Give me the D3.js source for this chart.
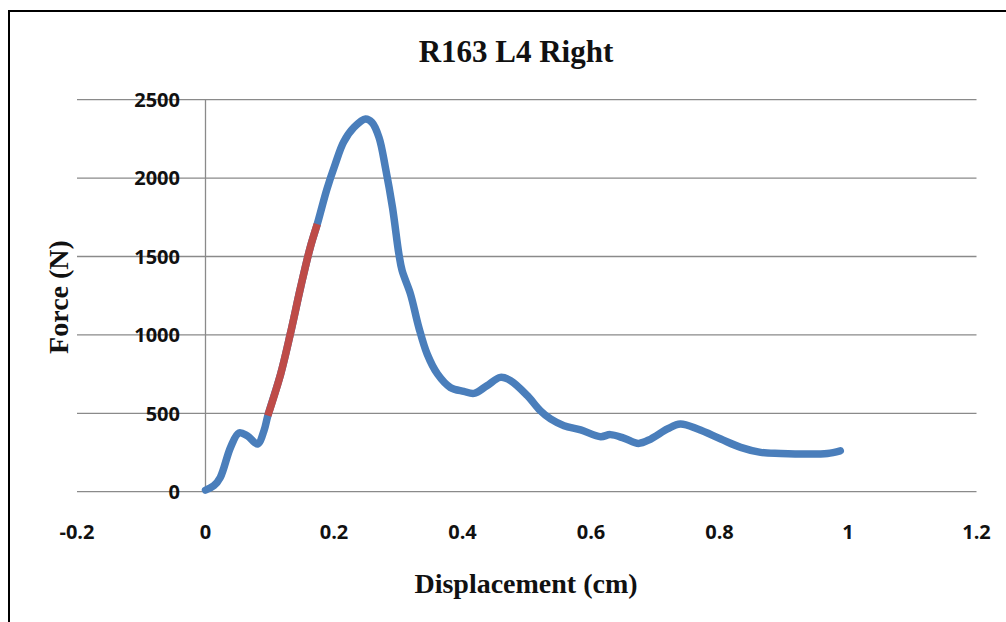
<!DOCTYPE html>
<html>
<head>
<meta charset="utf-8">
<script src="https://cdn.jsdelivr.net/npm/d3@7"></script>
<style>
  html, body { margin: 0; padding: 0; background: #fff; }
  svg { display: block; }
</style>
</head>
<body>
<svg id="chart" width="1006" height="622"></svg>
<script>
// ---- data ----
const title = "R163 L4 Right";
const xTitle = "Displacement (cm)";
const yTitle = "Force (N)";
const xTicks = [-0.2, 0, 0.2, 0.4, 0.6, 0.8, 1, 1.2];
const yTicks = [0, 500, 1000, 1500, 2000, 2500];

const dispBlue = [0, 0.013, 0.023, 0.039, 0.052, 0.065, 0.081, 0.091, 0.097, 0.117, 0.132, 0.148, 0.163, 0.174,
  0.189, 0.202, 0.215, 0.231, 0.249, 0.259, 0.270, 0.280, 0.291, 0.301, 0.306, 0.319, 0.332, 0.345, 0.361, 0.381,
  0.402, 0.418, 0.438, 0.459, 0.475, 0.501, 0.521, 0.537, 0.558, 0.584, 0.615, 0.630, 0.651, 0.674, 0.693, 0.719,
  0.739, 0.767, 0.802, 0.833, 0.864, 0.895, 0.937, 0.968, 0.988];
const forceBlue = [10, 38, 91, 283, 375, 357, 304, 389, 485, 751, 1006, 1303, 1558, 1707,
  1930, 2090, 2230, 2323, 2377, 2355, 2260, 2068, 1813, 1516, 1410, 1261, 1048, 878, 751, 665,
  640, 627, 676, 729, 708, 612, 517, 464, 421, 394, 351, 364, 342, 308, 336, 400,
  432, 398, 336, 283, 251, 244, 240, 244, 261];

const dispRed = [0.097, 0.117, 0.132, 0.148, 0.163, 0.174];
const forceRed = [485, 751, 1006, 1303, 1558, 1707];

// ---- drawing ----
const svg = d3.select("#chart");

// outer frame
svg.append("rect")
  .attr("x", 9).attr("y", 11)
  .attr("width", 1020).attr("height", 640)
  .attr("fill", "#fff").attr("stroke", "#000").attr("stroke-width", 2);

const x = d3.scaleLinear().domain([-0.2, 1.2]).range([77, 976.5]);
const y = d3.scaleLinear().domain([0, 2500]).range([491.7, 99.7]);

// horizontal gridlines
svg.append("g").selectAll("line").data(yTicks).join("line")
  .attr("x1", x(-0.2)).attr("x2", x(1.2))
  .attr("y1", d => y(d)).attr("y2", d => y(d))
  .attr("stroke", "#8a8a8a").attr("stroke-width", 1.3);

// vertical axis at x = 0
svg.append("line")
  .attr("x1", x(0)).attr("x2", x(0))
  .attr("y1", y(2500)).attr("y2", y(0))
  .attr("stroke", "#8a8a8a").attr("stroke-width", 1.3);

const tickFont = "'Open Sans', sans-serif";

// y tick labels
svg.append("g").selectAll("text").data(yTicks).join("text")
  .attr("x", 180).attr("y", d => y(d))
  .attr("dy", "0.36em")
  .attr("text-anchor", "end")
  .attr("font-family", tickFont).attr("font-weight", "bold")
  .attr("font-size", 20).attr("fill", "#111")
  .text(d => d);

// x tick labels
svg.append("g").selectAll("text").data(xTicks).join("text")
  .attr("x", d => x(d)).attr("y", 539)
  .attr("text-anchor", "middle")
  .attr("font-family", tickFont).attr("font-weight", "bold")
  .attr("font-size", 20).attr("fill", "#111")
  .text(d => d);

const line = d3.line()
  .x(d => x(d[0])).y(d => y(d[1]))
  .curve(d3.curveCatmullRom.alpha(0.5));

const blue = dispBlue.map((d, i) => [d, forceBlue[i]]);
const red = dispRed.map((d, i) => [d, forceRed[i]]);

svg.append("path").datum(blue)
  .attr("d", line).attr("fill", "none")
  .attr("stroke", "#4a7ebb").attr("stroke-width", 7.5)
  .attr("stroke-linecap", "round").attr("stroke-linejoin", "round");

svg.append("path").datum(red)
  .attr("d", line).attr("fill", "none")
  .attr("stroke", "#be4b48").attr("stroke-width", 7.5)
  .attr("stroke-linecap", "butt").attr("stroke-linejoin", "round");

const serif = "'Liberation Serif', 'Times New Roman', serif";

svg.append("text")
  .attr("x", 516).attr("y", 61.5)
  .attr("text-anchor", "middle")
  .attr("font-family", serif).attr("font-weight", "bold")
  .attr("font-size", 31).attr("fill", "#111")
  .text(title);

svg.append("text")
  .attr("x", 526).attr("y", 593)
  .attr("text-anchor", "middle")
  .attr("font-family", serif).attr("font-weight", "bold")
  .attr("font-size", 28).attr("fill", "#111")
  .text(xTitle);

svg.append("text")
  .attr("transform", "translate(68,297) rotate(-90)")
  .attr("text-anchor", "middle")
  .attr("font-family", serif).attr("font-weight", "bold")
  .attr("font-size", 28).attr("fill", "#111")
  .text(yTitle);
</script>
</body>
</html>
